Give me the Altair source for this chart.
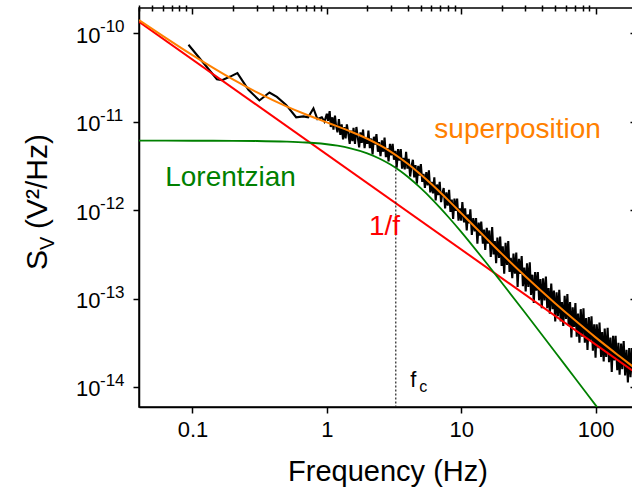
import altair as alt
import pandas as pd

FONT = "Liberation Sans"
W, H = 497, 399

# ---------------- data ----------------
# 1/f component (straight line in log-log)
red_freq = [0.04, 200]
red_S = [1.35e-10, 1.44e-14]

# Lorentzian component
green_freq = [0.04, 0.1, 0.2, 0.3, 0.5, 0.7, 0.8, 1, 1.2, 1.5, 2, 2.5, 3, 3.5, 4, 5, 6, 7, 8,
              10, 12, 15, 20, 30, 50, 70, 100, 110]
green_S = [6.1e-12, 6.09e-12, 6.08e-12, 6.05e-12, 5.95e-12, 5.82e-12, 5.74e-12, 5.56e-12, 5.35e-12,
           5.0e-12, 4.39e-12, 3.79e-12, 3.25e-12, 2.78e-12, 2.38e-12, 1.77e-12, 1.351e-12, 1.054e-12,
           8.41e-13, 5.67e-13, 4.05e-13, 2.66e-13, 1.52e-13, 6.86e-14, 2.49e-14, 1.27e-14, 6.24e-15, 5.16e-15]

# superposition
orange_freq = [0.04, 0.06, 0.1, 0.15, 0.2, 0.3, 0.5, 0.7, 0.8, 1, 1.2, 1.5, 2, 2.5, 3, 3.5, 4, 5, 6, 7, 8,
               10, 12, 15, 20, 30, 50, 70, 100, 150, 200]
orange_S = [1.41e-10, 9.34e-11, 5.65e-11, 3.87e-11, 3.0e-11, 2.155e-11, 1.49e-11, 1.206e-11, 1.115e-11,
            9.81e-12, 8.85e-12, 7.75e-12, 6.41e-12, 5.38e-12, 4.56e-12, 3.89e-12, 3.34e-12, 2.525e-12,
            1.97e-12, 1.58e-12, 1.297e-12, 9.25e-13, 7.0e-13, 4.98e-13, 3.22e-13, 1.786e-13, 8.86e-14,
            5.71e-14, 3.64e-14, 2.24e-14, 1.6e-14]

# measured spectrum (frequency in Hz, log10 of S_V)
black_freq = [
    0.0934, 0.152, 0.166, 0.191, 0.216, 0.261, 0.315, 0.374, 0.425, 0.498,
    0.591, 0.670, 0.726, 0.795, 0.851, 0.918, 0.96,
    1.00, 1.02, 1.05, 1.07, 1.10, 1.12, 1.15, 1.17, 1.20, 1.23,
    1.26, 1.29, 1.32, 1.35, 1.38, 1.41, 1.45, 1.48, 1.51, 1.55,
    1.58, 1.62, 1.66, 1.70, 1.74, 1.78, 1.82, 1.86, 1.91, 1.95,
    2.00, 2.04, 2.09, 2.14, 2.19, 2.24, 2.29, 2.34, 2.40, 2.45,
    2.51, 2.57, 2.63, 2.69, 2.75, 2.82, 2.88, 2.95, 3.02, 3.09,
    3.16, 3.24, 3.31, 3.39, 3.47, 3.55, 3.63, 3.72, 3.80, 3.89,
    3.98, 4.07, 4.17, 4.27, 4.37, 4.47, 4.57, 4.68, 4.79, 4.90,
    5.01, 5.13, 5.25, 5.37, 5.50, 5.62, 5.75, 5.89, 6.03, 6.17,
    6.31, 6.46, 6.61, 6.76, 6.92, 7.08, 7.24, 7.41, 7.59, 7.76,
    7.94, 8.13, 8.32, 8.51, 8.71, 8.91, 9.12, 9.33, 9.55, 9.77,
    10.0, 10.2, 10.5, 10.7, 11.0, 11.2, 11.5, 11.7, 12.0, 12.3,
    12.6, 12.9, 13.2, 13.5, 13.8, 14.1, 14.5, 14.8, 15.1, 15.5,
    15.8, 16.2, 16.6, 17.0, 17.4, 17.8, 18.2, 18.6, 19.1, 19.5,
    20.0, 20.4, 20.9, 21.4, 21.9, 22.4, 22.9, 23.4, 24.0, 24.5,
    25.1, 25.7, 26.3, 26.9, 27.5, 28.2, 28.8, 29.5, 30.2, 30.9,
    31.6, 32.4, 33.1, 33.9, 34.7, 35.5, 36.3, 37.2, 38.0, 38.9,
    39.8, 40.7, 41.7, 42.7, 43.7, 44.7, 45.7, 46.8, 47.9, 49.0,
    50.1, 51.3, 52.5, 53.7, 55.0, 56.2, 57.5, 58.9, 60.3, 61.7,
    63.1, 64.6, 66.1, 67.6, 69.2, 70.8, 72.4, 74.1, 75.9, 77.6,
    79.4, 81.3, 83.2, 85.1, 87.1, 89.1, 91.2, 93.3, 95.5, 97.7,
    100, 102, 105, 107, 110, 112, 115, 117, 120, 123,
    126, 129, 132, 135, 138, 141, 145, 148, 151, 155,
    158, 162, 166, 170, 174, 178, 182, 186, 191, 195, 200,
]
black_log10S = [
    -10.13, -10.52, -10.53, -10.49, -10.45, -10.64, -10.76, -10.67, -10.72, -10.81,
    -10.95, -10.94, -10.95, -10.85, -10.97, -10.95, -11.00,
    -10.91, -10.99, -10.88, -11.06, -10.95, -11.09, -10.93, -11.04, -11.12, -10.97,
    -11.15, -11.03, -11.20, -11.06, -11.19, -11.03, -11.15, -11.25, -11.10, -11.22,
    -11.07, -11.25, -11.06, -11.18, -11.29, -11.12, -11.24, -11.09, -11.30, -11.18,
    -11.25, -11.10, -11.30, -11.19, -11.37, -11.17, -11.26, -11.14, -11.34, -11.23,
    -11.39, -11.21, -11.34, -11.18, -11.40, -11.30, -11.45, -11.25, -11.38, -11.25,
    -11.43, -11.33, -11.52, -11.31, -11.44, -11.31, -11.53, -11.41, -11.54, -11.34,
    -11.53, -11.42, -11.62, -11.50, -11.43, -11.63, -11.49, -11.70, -11.50, -11.61,
    -11.48, -11.68, -11.59, -11.75, -11.57, -11.72, -11.55, -11.80, -11.68, -11.81,
    -11.63, -11.89, -11.71, -11.83, -11.68, -11.91, -11.81, -11.75, -11.98, -11.80,
    -11.95, -11.77, -12.02, -11.88, -12.10, -11.87, -12.01, -11.87, -12.12, -11.98,
    -12.12, -11.91, -12.14, -11.98, -12.23, -12.05, -12.15, -11.99, -12.28, -12.09,
    -12.24, -12.09, -12.38, -12.14, -12.29, -12.13, -12.38, -12.22, -12.45, -12.20,
    -12.38, -12.23, -12.53, -12.19, -12.50, -12.35, -12.60, -12.31, -12.54, -12.30,
    -12.63, -12.41, -12.72, -12.37, -12.62, -12.35, -12.70, -12.54, -12.77, -12.49,
    -12.72, -12.48, -12.87, -12.55, -12.72, -12.52, -12.86, -12.65, -12.92, -12.60,
    -12.87, -12.59, -12.96, -12.73, -13.05, -12.70, -12.91, -12.70, -13.02, -12.78,
    -13.11, -12.77, -13.02, -12.75, -13.11, -12.88, -13.17, -12.83, -13.12, -12.91,
    -13.26, -12.93, -13.20, -12.90, -13.26, -13.04, -13.31, -12.97, -13.23, -12.95,
    -13.31, -13.04, -13.44, -13.10, -13.32, -13.05, -13.43, -13.17, -13.50, -13.12,
    -13.43, -13.11, -13.50, -13.22, -13.58, -13.21, -13.47, -13.20, -13.59, -13.29,
    -13.67, -13.29, -13.56, -13.27, -13.66, -13.38, -13.71, -13.34, -13.66, -13.33,
    -13.72, -13.44, -13.83, -13.42, -13.70, -13.42, -13.81, -13.50, -13.86, -13.51,
    -13.80, -13.48, -13.87, -13.58, -13.95, -13.56, -13.89, -13.56, -13.93, -13.65, -13.96,
]

# corner frequency marker
fc_freq = [3.26]
fc_top_S = [3.2e-12]

# annotations
ann_text = ["superposition", "Lorentzian", "1/f"]
ann_freq = [26.3, 0.192, 2.69]
ann_S = [6.55e-12, 1.87e-12, 5.22e-13]
ann_color = ["#FF8000", "#008000", "#FF0000"]

fc_label_freq = [4.17]
fc_label_S = [1.0e-14]

# axes
x_domain = [0.04, 200]
y_domain = [5.94e-15, 1.93e-10]
x_major = [0.1, 1, 10, 100]
x_minor = [m * d for d in (0.01, 0.1, 1, 10, 100) for m in range(2, 10) if 0.04 <= m * d <= 200]
y_major = [1e-14, 1e-13, 1e-12, 1e-11, 1e-10]
y_exp = ["-14", "-13", "-12", "-11", "-10"]
y_minor = [m * d for d in (1e-15, 1e-14, 1e-13, 1e-12, 1e-11, 1e-10) for m in range(2, 10)
           if 5.94e-15 <= m * d <= 1.93e-10]

# ---------------- chart ----------------
xs = alt.Scale(type="log", domain=x_domain, nice=False)
ys = alt.Scale(type="log", domain=y_domain, nice=False)

common_axis = dict(grid=False, tickColor="black", tickWidth=1.5, domainColor="black",
                   domainWidth=1.5, labelFont=FONT, labelColor="black", titleFont=FONT,
                   titleColor="black", labelOverlap=False)

ax_x_major = alt.Axis(values=x_major, format="~g", labelFontSize=22, tickSize=6, labelPadding=6,
                      labelFlush=False, title="Frequency (Hz)", titleFontSize=29,
                      titleFontWeight="normal", titlePadding=17, **common_axis)
ax_x_minor = alt.Axis(values=x_minor, labels=False, tickSize=3, domain=False, title=None,
                      **common_axis)
ax_x_top_major = alt.Axis(orient="bottom", offset=-H, values=x_major, labels=False, tickSize=6,
                          domain=False, title=None, **common_axis)
ax_x_top_minor = alt.Axis(orient="bottom", offset=-H, values=x_minor, labels=False, tickSize=3,
                          domain=False, title=None, **common_axis)

ax_y_major = alt.Axis(values=y_major, labelExpr="'10'", labelFontSize=22, tickSize=6,
                      labelPadding=33, labelOffset=2, title=None, **common_axis)
ax_y_minor = alt.Axis(values=y_minor, labels=False, tickSize=3, domain=False, title=None,
                      **common_axis)
ax_y_right_major = alt.Axis(orient="left", offset=-W, values=y_major, labels=False, tickSize=6,
                            domain=False, title=None, **common_axis)
ax_y_right_minor = alt.Axis(orient="left", offset=-W, values=y_minor, labels=False, tickSize=3,
                            domain=False, title=None, **common_axis)

df_black = pd.DataFrame({"f": black_freq, "logS": black_log10S})
df_red = pd.DataFrame({"f": red_freq, "S": red_S})
df_green = pd.DataFrame({"f": green_freq, "S": green_S})
df_orange = pd.DataFrame({"f": orange_freq, "S": orange_S})

black = alt.Chart(df_black).transform_calculate(S="pow(10, datum.logS)").mark_line(
    color="black", strokeWidth=2.1, clip=True
).encode(
    x=alt.X("f:Q", scale=xs, axis=ax_x_major),
    y=alt.Y("S:Q", scale=ys, axis=ax_y_major),
)
red = alt.Chart(df_red).mark_line(color="#FF0000", strokeWidth=2, clip=True).encode(
    x=alt.X("f:Q", scale=xs, axis=ax_x_minor),
    y=alt.Y("S:Q", scale=ys, axis=ax_y_minor),
)
green = alt.Chart(df_green).mark_line(color="#008000", strokeWidth=1.8, clip=True,
                                      interpolate="monotone").encode(
    x=alt.X("f:Q", scale=xs, axis=ax_x_top_major),
    y=alt.Y("S:Q", scale=ys, axis=ax_y_right_major),
)
orange = alt.Chart(df_orange).mark_line(color="#FF8000", strokeWidth=2, clip=True,
                                        interpolate="monotone").encode(
    x=alt.X("f:Q", scale=xs, axis=ax_x_top_minor),
    y=alt.Y("S:Q", scale=ys, axis=ax_y_right_minor),
)

df_rule = pd.DataFrame({"f": fc_freq, "top": fc_top_S, "bot": [y_domain[0]]})
rule = alt.Chart(df_rule).mark_rule(color="#222222", strokeWidth=1.2, strokeDash=[2, 2]).encode(
    x=alt.X("f:Q", scale=xs, axis=None),
    y=alt.Y("top:Q", scale=ys, axis=None),
    y2="bot:Q",
)

df_ann = pd.DataFrame({"f": ann_freq, "S": ann_S, "t": ann_text, "c": ann_color})
ann = alt.Chart(df_ann).mark_text(font=FONT, fontSize=28, align="center",
                                  baseline="alphabetic").encode(
    x=alt.X("f:Q", scale=xs, axis=None),
    y=alt.Y("S:Q", scale=ys, axis=None),
    text="t:N",
    color=alt.Color("c:N", scale=None),
)

df_fc = pd.DataFrame({"f": fc_label_freq, "S": fc_label_S})
fc_f = alt.Chart(df_fc).mark_text(font=FONT, fontSize=22, align="left", baseline="alphabetic",
                                  color="black", text="f").encode(
    x=alt.X("f:Q", scale=xs, axis=None),
    y=alt.Y("S:Q", scale=ys, axis=None),
)
fc_c = alt.Chart(df_fc).mark_text(font=FONT, fontSize=16, align="left", baseline="alphabetic",
                                  color="black", text="c", dx=9, dy=5).encode(
    x=alt.X("f:Q", scale=xs, axis=None),
    y=alt.Y("S:Q", scale=ys, axis=None),
)

df_yexp = pd.DataFrame({"S": y_major, "t": y_exp})
yexp = alt.Chart(df_yexp).mark_text(font=FONT, fontSize=17, align="left", baseline="middle",
                                    color="black", dy=-6).encode(
    x=alt.value(-39),
    y=alt.Y("S:Q", scale=ys, axis=None),
    text="t:N",
)

one = pd.DataFrame({"a": [0]})
t_S = alt.Chart(one).mark_text(font=FONT, fontSize=30, angle=270, align="left",
                               baseline="alphabetic", color="black", text="S").encode(
    x=alt.value(-92), y=alt.value(262))
t_V = alt.Chart(one).mark_text(font=FONT, fontSize=20, angle=270, align="left",
                               baseline="alphabetic", color="black", text="V").encode(
    x=alt.value(-85), y=alt.value(242))
t_rest = alt.Chart(one).mark_text(font=FONT, fontSize=30, angle=270, align="left",
                                  baseline="alphabetic", color="black", text="(V²/Hz)").encode(
    x=alt.value(-92), y=alt.value(221))

chart = alt.layer(
    black, red, green, orange, rule, ann, fc_f, fc_c, yexp, t_S, t_V, t_rest
).resolve_axis(x="independent", y="independent").properties(
    width=W, height=H,
    autosize=alt.AutoSizeParams(type="none"),
    padding={"left": 139, "top": 8, "right": -4, "bottom": 83},
    background="white",
).configure_view(stroke="black", strokeWidth=1.5)

chart.save("out.html", embed_options={"renderer": "svg", "actions": False})
